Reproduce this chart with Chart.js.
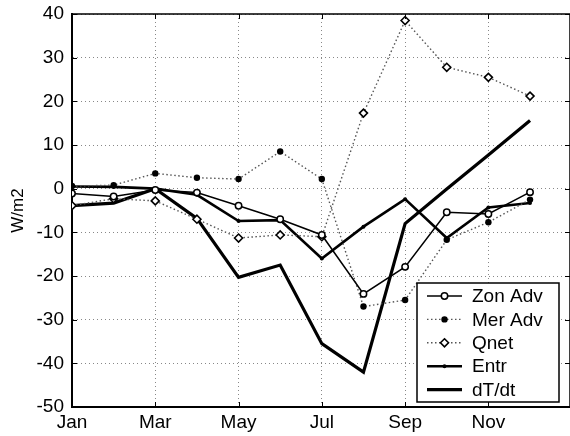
<!DOCTYPE html>
<html>
<head>
<meta charset="utf-8">
<script src="https://cdn.jsdelivr.net/npm/chart.js@4/dist/chart.umd.min.js"></script>
<style>
  html, body { margin: 0; padding: 0; background: #fff; overflow: hidden; }
  #wrap { width: 570px; height: 436px; }
</style>
</head>
<body>
<div id="wrap"><canvas id="myChart" width="570" height="436"></canvas></div>
<script>
// data
const months = ['Jan', 'Feb', 'Mar', 'Apr', 'May', 'Jun', 'Jul', 'Aug', 'Sep', 'Oct', 'Nov', 'Dec'];
const zonAdv = [-1.1, -1.8, -0.3, -0.9, -3.9, -7.0, -10.6, -24.1, -17.9, -5.4, -5.8, -0.8];
const merAdv = [0.6, 0.8, 3.5, 2.5, 2.2, 8.5, 2.2, -27.0, -25.5, -11.7, -7.7, -2.5];
const qnet = [-3.9, -2.3, -2.8, -7.0, -11.3, -10.6, -11.0, 17.3, 38.5, 27.8, 25.5, 21.2];
const entr = [0.5, 0.4, 0.0, -1.4, -7.4, -7.2, -16.0, -8.7, -2.4, -11.3, -4.3, -3.3];
const dTdt = [-3.9, -3.3, 0.0, -6.8, -20.3, -17.5, -35.5, -42.0, -8.0, -0.1, 7.7, 15.6];
const xTicks = [1, 3, 5, 7, 9, 11];
const yTicks = [-50, -40, -30, -20, -10, 0, 10, 20, 30, 40];

const FONT = 'Liberation Sans, Arial, sans-serif';
const FSIZE = 19;

function pts(arr) {
  return arr.map((v, i) => ({ x: i + 1, y: v }));
}

// setup
const data = {
  datasets: [
    {
      label: 'Zon Adv', data: pts(zonAdv),
      borderColor: '#000', borderWidth: 1.5,
      pointStyle: 'circle', pointRadius: 3.2, pointBorderWidth: 1.5,
      pointBackgroundColor: '#fff', pointBorderColor: '#000'
    },
    {
      label: 'Mer Adv', data: pts(merAdv),
      borderColor: '#555', borderWidth: 1.4, borderDash: [1.5, 2.5],
      pointStyle: 'circle', pointRadius: 3.2, pointBorderWidth: 0,
      pointBackgroundColor: '#000', pointBorderColor: '#000'
    },
    {
      label: 'Qnet', data: pts(qnet),
      borderColor: '#555', borderWidth: 1.4, borderDash: [1.5, 2.5],
      pointStyle: 'rectRot', pointRadius: 4, pointBorderWidth: 1.6,
      pointBackgroundColor: '#fff', pointBorderColor: '#000'
    },
    {
      label: 'Entr', data: pts(entr),
      borderColor: '#000', borderWidth: 2.6,
      pointStyle: 'circle', pointRadius: 2, pointBorderWidth: 0,
      pointBackgroundColor: '#000', pointBorderColor: '#000'
    },
    {
      label: 'dT/dt', data: pts(dTdt),
      borderColor: '#000', borderWidth: 3.2,
      pointRadius: 0
    }
  ]
};

// box, inward ticks and matlab style legend
const matlabBox = {
  id: 'matlabBox',
  afterDraw(chart) {
    const { ctx, chartArea: a, scales } = chart;
    ctx.save();
    ctx.strokeStyle = '#000';
    ctx.lineWidth = 1.5;
    ctx.setLineDash([]);
    ctx.beginPath();
    ctx.moveTo(a.left, a.top); ctx.lineTo(a.right, a.top);
    ctx.lineTo(a.right, a.bottom);
    ctx.stroke();
    ctx.lineWidth = 1;
    ctx.beginPath();
    yTicks.forEach(v => {
      const y = Math.round(scales.y.getPixelForValue(v)) + 0.5;
      ctx.moveTo(a.left, y); ctx.lineTo(a.left + 5, y);
      ctx.moveTo(a.right, y); ctx.lineTo(a.right - 5, y);
    });
    xTicks.forEach(v => {
      const x = Math.round(scales.x.getPixelForValue(v)) + 0.5;
      ctx.moveTo(x, a.bottom); ctx.lineTo(x, a.bottom - 5);
      ctx.moveTo(x, a.top); ctx.lineTo(x, a.top + 5);
    });
    ctx.stroke();

    // legend
    const bx = 417, by = 283, bw = 142, bh = 119;
    ctx.fillStyle = '#fff';
    ctx.fillRect(bx, by, bw, bh);
    ctx.lineWidth = 1.5;
    ctx.strokeRect(bx, by, bw, bh);
    ctx.font = FSIZE + 'px ' + FONT;
    ctx.textBaseline = 'middle';
    chart.data.datasets.forEach((ds, i) => {
      const y = by + 13 + i * 23.4;
      const mx = bx + 27.5;
      ctx.save();
      ctx.strokeStyle = ds.borderColor;
      ctx.lineWidth = ds.borderWidth;
      ctx.setLineDash(ds.borderDash || []);
      ctx.beginPath();
      ctx.moveTo(bx + 10, y); ctx.lineTo(bx + 45, y);
      ctx.stroke();
      ctx.restore();
      if (ds.pointRadius > 0) {
        ctx.save();
        ctx.fillStyle = ds.pointBackgroundColor;
        ctx.strokeStyle = ds.pointBorderColor;
        ctx.lineWidth = ds.pointBorderWidth;
        ctx.beginPath();
        if (ds.pointStyle === 'rectRot') {
          const r = ds.pointRadius;
          ctx.moveTo(mx, y - r); ctx.lineTo(mx + r, y);
          ctx.lineTo(mx, y + r); ctx.lineTo(mx - r, y);
          ctx.closePath();
        } else {
          ctx.arc(mx, y, ds.pointRadius, 0, Math.PI * 2);
        }
        ctx.fill();
        if (ds.pointBorderWidth > 0) ctx.stroke();
        ctx.restore();
      }
      ctx.fillStyle = '#000';
      ctx.fillText(ds.label, bx + 55, y + 1);
    });
    ctx.restore();
  }
};

// config
const config = {
  type: 'line',
  data,
  options: {
    responsive: false,
    animation: false,
    layout: { autoPadding: false, padding: { left: 0, right: 0, top: 14, bottom: 0 } },
    plugins: { legend: { display: false }, tooltip: { enabled: false } },
    scales: {
      x: {
        type: 'linear', min: 1, max: 12.96,
        afterBuildTicks: s => { s.ticks = xTicks.map(v => ({ value: v })); },
        afterFit: s => {
          s.height = 29;
          s.paddingLeft = 0; s.paddingRight = 0;
        },
        ticks: {
          callback: v => months[v - 1],
          color: '#000', font: { family: FONT, size: FSIZE }, padding: 4,
          maxRotation: 0, autoSkip: false
        },
        grid: { color: '#888', lineWidth: 1, tickLength: 0 },
        border: { color: '#000', width: 2, dash: [1, 3] }
      },
      y: {
        min: -50, max: 40,
        afterBuildTicks: s => { s.ticks = yTicks.map(v => ({ value: v })); },
        afterFit: s => {
          s.width = 72;
          s.paddingTop = 0; s.paddingBottom = 0;
        },
        ticks: {
          color: '#000', font: { family: FONT, size: FSIZE }, padding: 8
        },
        title: {
          display: true, text: 'W/m2', color: '#000',
          font: { family: FONT, size: 17 }, padding: { top: 8, bottom: 0 }
        },
        grid: { color: '#888', lineWidth: 1, tickLength: 0 },
        border: { color: '#000', width: 2, dash: [1, 3] }
      }
    }
  },
  plugins: [matlabBox]
};

// render init block
const myChart = new Chart(document.getElementById('myChart'), config);
</script>
</body>
</html>
